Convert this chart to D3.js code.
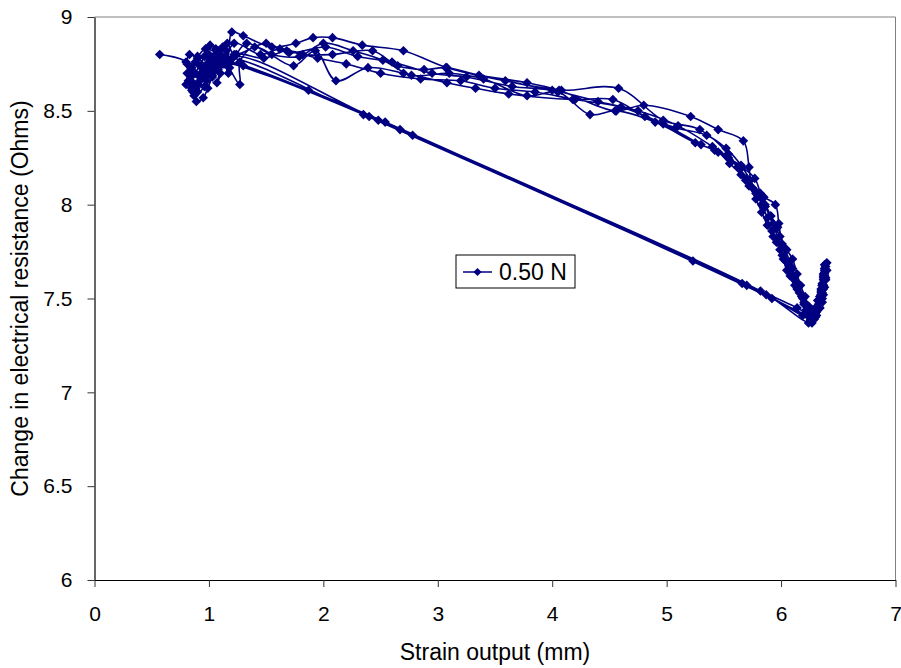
<!DOCTYPE html>
<html>
<head>
<meta charset="utf-8">
<script src="https://cdn.jsdelivr.net/npm/d3@7"></script>
<style>
  body { margin: 0; background: #fff; }
  text { font-family: "Liberation Sans", Arial, sans-serif; fill: #000; }
</style>
</head>
<body>
<div id="chart"></div>
<script>
// each cycle: [strain (mm), change in resistance (Ohms)]
// cluster near 1 mm -> loading path -> turn at ~6.3 mm -> straight return
const cycle1 = [
  [0.57,8.80],[0.80,8.76],[0.84,8.68],[0.90,8.79],[0.95,8.72],[0.88,8.62],[0.92,8.66],[1.00,8.80],[0.97,8.74],
  [1.06,8.74],[1.03,8.69],[1.12,8.84],[1.09,8.78],[1.16,8.78],
  [1.20,8.92],[1.30,8.90],[1.55,8.84],[1.76,8.86],[1.91,8.89],[2.08,8.89],[2.34,8.85],[2.70,8.82],[3.08,8.73],[3.59,8.66],
  [4.08,8.61],[4.58,8.62],[4.97,8.45],[5.29,8.40],[5.54,8.27],[5.69,8.13],[5.78,8.06],[5.86,7.99],[5.93,7.90],[5.99,7.83],
  [6.05,7.76],[6.10,7.71],[6.14,7.63],[6.17,7.57],[6.21,7.51],[6.24,7.46],[6.27,7.39],
  [6.31,7.44],[6.33,7.49],[6.35,7.54],[6.36,7.58],[6.37,7.61],[6.38,7.65],[6.38,7.68],[6.37,7.63],[6.36,7.57],
  [6.34,7.51],[6.33,7.47],[6.29,7.40],
  [6.14,7.45],[5.23,7.70],[2.35,8.48],[1.20,8.78]
];
const cycle2 = [
  [1.05,8.76],[0.93,8.70],[0.82,8.66],[0.85,8.61],[0.87,8.58],[0.96,8.63],[0.99,8.71],[1.02,8.77],[1.10,8.70],
  [1.07,8.65],[1.15,8.82],[1.13,8.75],[1.22,8.86],
  [1.45,8.80],[1.62,8.83],[1.82,8.80],[2.08,8.80],[2.43,8.82],[2.65,8.74],[2.88,8.72],[3.07,8.73],[3.36,8.69],[3.78,8.65],
  [4.06,8.61],[4.55,8.50],[4.80,8.53],[5.21,8.47],[5.45,8.40],[5.67,8.34],[5.72,8.20],[5.75,8.09],[5.85,8.04],[5.95,8.00],
  [5.98,7.90],[6.01,7.79],[6.07,7.68],[6.13,7.59],[6.18,7.51],[6.22,7.44],[6.26,7.38],
  [6.32,7.46],[6.34,7.51],[6.35,7.55],[6.37,7.60],[6.38,7.64],[6.38,7.61],[6.37,7.57],[6.36,7.53],[6.34,7.49],
  [6.31,7.43],[6.28,7.39],
  [5.92,7.50],[2.54,8.44],[1.87,8.61],[1.15,8.77]
];
const cycle3 = [
  [1.08,8.80],[0.97,8.83],[0.85,8.73],[0.83,8.69],[0.80,8.64],[0.86,8.60],[0.89,8.55],[0.95,8.57],[0.99,8.62],
  [1.03,8.68],[1.08,8.72],[1.13,8.76],[1.27,8.64],[1.27,8.76],
  [1.40,8.84],[1.74,8.74],[1.93,8.82],[2.11,8.66],[2.39,8.73],[2.70,8.70],[3.08,8.65],[3.33,8.62],[3.62,8.59],[4.18,8.56],
  [4.53,8.56],[4.81,8.47],[5.08,8.41],[5.35,8.37],[5.52,8.30],[5.65,8.21],[5.73,8.13],[5.80,8.05],[5.86,8.00],[5.91,7.94],
  [5.97,7.82],[6.01,7.73],[6.05,7.65],[6.12,7.57],[6.19,7.50],[6.24,7.44],[6.28,7.40],
  [6.30,7.42],[6.33,7.46],[6.35,7.50],[6.37,7.55],[6.39,7.60],[6.40,7.65],[6.40,7.69],[6.38,7.66],[6.37,7.62],
  [6.36,7.57],[6.35,7.52],[6.33,7.46],[6.30,7.41],
  [5.66,7.58],[2.78,8.37],[1.10,8.76]
];
const cycle4 = [
  [1.00,8.74],[0.90,8.78],[0.83,8.80],[0.81,8.75],[0.86,8.70],[0.92,8.68],[0.98,8.66],[1.03,8.75],[1.07,8.82],
  [1.12,8.78],[1.18,8.73],[1.24,8.80],[1.33,8.86],
  [1.55,8.80],[1.79,8.79],[2.00,8.86],[2.26,8.82],[2.52,8.77],[2.77,8.69],[3.10,8.70],[3.40,8.67],[3.78,8.58],[4.05,8.60],
  [4.33,8.48],[4.56,8.50],[4.90,8.44],[5.25,8.33],[5.42,8.29],[5.54,8.25],[5.66,8.20],[5.77,8.14],[5.82,8.06],[5.86,7.99],
  [5.91,7.94],[5.97,7.88],[6.03,7.77],[6.10,7.66],[6.15,7.56],[6.20,7.47],[6.24,7.37],
  [6.31,7.41],[6.34,7.45],[6.36,7.48],[6.37,7.52],[6.38,7.56],[6.39,7.61],[6.39,7.65],[6.38,7.60],[6.36,7.55],
  [6.34,7.49],[6.31,7.43],[6.27,7.37],
  [5.82,7.54],[2.48,8.45],[1.22,8.79]
];
const cycle5 = [
  [1.05,8.72],[0.94,8.68],[0.90,8.64],[0.85,8.62],[0.88,8.70],[0.92,8.74],[0.96,8.79],[1.01,8.85],[1.06,8.83],
  [1.10,8.80],[1.14,8.75],[1.17,8.70],[1.24,8.80],
  [1.48,8.78],[1.68,8.82],[1.95,8.78],[2.20,8.75],[2.50,8.70],[2.85,8.67],[3.20,8.66],[3.50,8.62],[3.85,8.60],[4.20,8.56],
  [4.60,8.52],[4.97,8.43],[5.30,8.32],[5.45,8.28],[5.55,8.22],[5.65,8.16],[5.72,8.10],[5.78,8.03],[5.83,7.96],[5.88,7.89],
  [5.93,7.83],[5.99,7.76],[6.04,7.70],[6.10,7.61],[6.16,7.53],[6.21,7.47],[6.25,7.42],
  [6.30,7.45],[6.32,7.49],[6.35,7.53],[6.36,7.57],[6.38,7.62],[6.37,7.56],[6.36,7.50],[6.33,7.45],[6.29,7.39],
  [6.19,7.41],[5.87,7.52],[2.67,8.40],[1.18,8.76]
];
const cycle6 = [
  [1.12,8.75],[0.99,8.69],[0.88,8.76],[0.84,8.73],[0.81,8.70],[0.86,8.65],[0.90,8.60],[0.95,8.68],[1.00,8.76],
  [1.04,8.79],[1.08,8.82],[1.16,8.86],[1.22,8.80],
  [1.50,8.86],[1.70,8.81],[2.02,8.84],[2.30,8.79],[2.60,8.76],[2.95,8.70],[3.25,8.68],[3.65,8.63],[4.00,8.61],[4.40,8.55],
  [4.75,8.50],[5.10,8.42],[5.40,8.31],[5.52,8.26],[5.62,8.20],[5.70,8.14],[5.78,8.07],[5.83,8.00],[5.88,7.93],[5.92,7.86],
  [5.96,7.80],[6.02,7.71],[6.08,7.62],[6.14,7.55],[6.20,7.48],[6.24,7.43],[6.27,7.38],
  [6.33,7.47],[6.35,7.52],[6.37,7.57],[6.38,7.62],[6.39,7.67],[6.38,7.63],[6.38,7.60],[6.36,7.55],[6.34,7.50],
  [6.32,7.45],[6.30,7.40],
  [5.70,7.57],[2.40,8.47],[1.30,8.74]
];

const xTicks = [0, 1, 2, 3, 4, 5, 6, 7];
const yTicks = [6, 6.5, 7, 7.5, 8, 8.5, 9];
const seriesName = "0.50 N";

const series = cycle1.concat(cycle2, cycle3, cycle4, cycle5, cycle6);

const W = 901, H = 668;
const mLeft = 94.5, mRight = 895.5, mTop = 17, mBottom = 580;
const navy = "#000080";

const svg = d3.select("#chart").append("svg")
    .attr("width", W)
    .attr("height", H);

const x = d3.scaleLinear().domain([0, 7]).range([mLeft, mRight]);
const y = d3.scaleLinear().domain([6, 9]).range([mBottom, mTop]);

// plot area border (top and right are grey)
svg.append("line")
    .attr("x1", mLeft).attr("x2", mRight).attr("y1", mTop).attr("y2", mTop)
    .attr("stroke", "#808080");
svg.append("line")
    .attr("x1", mRight).attr("x2", mRight).attr("y1", mTop).attr("y2", mBottom)
    .attr("stroke", "#808080");

// axes
let xAxis = svg.append("g")
    .attr("transform", "translate(0," + mBottom + ")")
    .call(d3.axisBottom(x).tickValues(xTicks).tickSize(7).tickSizeOuter(0).tickPadding(19)
        .tickFormat(d3.format("d")));
let yAxis = svg.append("g")
    .attr("transform", "translate(" + mLeft + ",0)")
    .call(d3.axisLeft(y).tickValues(yTicks).tickSize(7).tickSizeOuter(0).tickPadding(15)
        .tickFormat(d => String(d)));

[xAxis, yAxis].forEach(a => {
    a.select(".domain").attr("stroke", "#000").attr("stroke-width", 1.2);
    a.selectAll(".tick line").attr("stroke", "#333");
    a.selectAll(".tick text")
        .attr("font-size", 21)
        .attr("font-family", "Liberation Sans, Arial, sans-serif")
        .attr("fill", "#000");
});

// axis titles
svg.append("text")
    .attr("x", (mLeft + mRight) / 2)
    .attr("y", 660)
    .attr("text-anchor", "middle")
    .attr("font-size", 23)
    .text("Strain output (mm)");

svg.append("text")
    .attr("transform", "translate(28," + ((mTop + mBottom) / 2) + ") rotate(-90)")
    .attr("text-anchor", "middle")
    .attr("font-size", 23)
    .text("Change in electrical resistance (Ohms)");

// the series: smoothed line with diamond markers
let line = d3.line()
    .x(d => x(d[0]))
    .y(d => y(d[1]))
    .curve(d3.curveCatmullRom.alpha(0.5));

svg.append("path")
    .datum(series)
    .attr("d", line)
    .attr("fill", "none")
    .attr("stroke", navy)
    .attr("stroke-width", 1.6);

let diamond = d3.symbol().type(d3.symbolSquare).size(46);

svg.append("g")
    .selectAll("path")
    .data(series)
    .join("path")
    .attr("d", diamond)
    .attr("transform", d => "translate(" + x(d[0]) + "," + y(d[1]) + ") rotate(45)")
    .attr("fill", navy);

// legend
let lg = svg.append("g").attr("transform", "translate(456,255)");
lg.append("rect")
    .attr("width", 119).attr("height", 33)
    .attr("fill", "#fff").attr("stroke", "#000");
lg.append("line")
    .attr("x1", 7).attr("x2", 36).attr("y1", 17).attr("y2", 17)
    .attr("stroke", navy).attr("stroke-width", 1.5);
lg.append("path")
    .attr("d", d3.symbol().type(d3.symbolSquare).size(34))
    .attr("transform", "translate(21.5,17) rotate(45)")
    .attr("fill", navy);
lg.append("text")
    .attr("x", 43).attr("y", 25)
    .attr("font-size", 23)
    .text(seriesName);
</script>
</body>
</html>
